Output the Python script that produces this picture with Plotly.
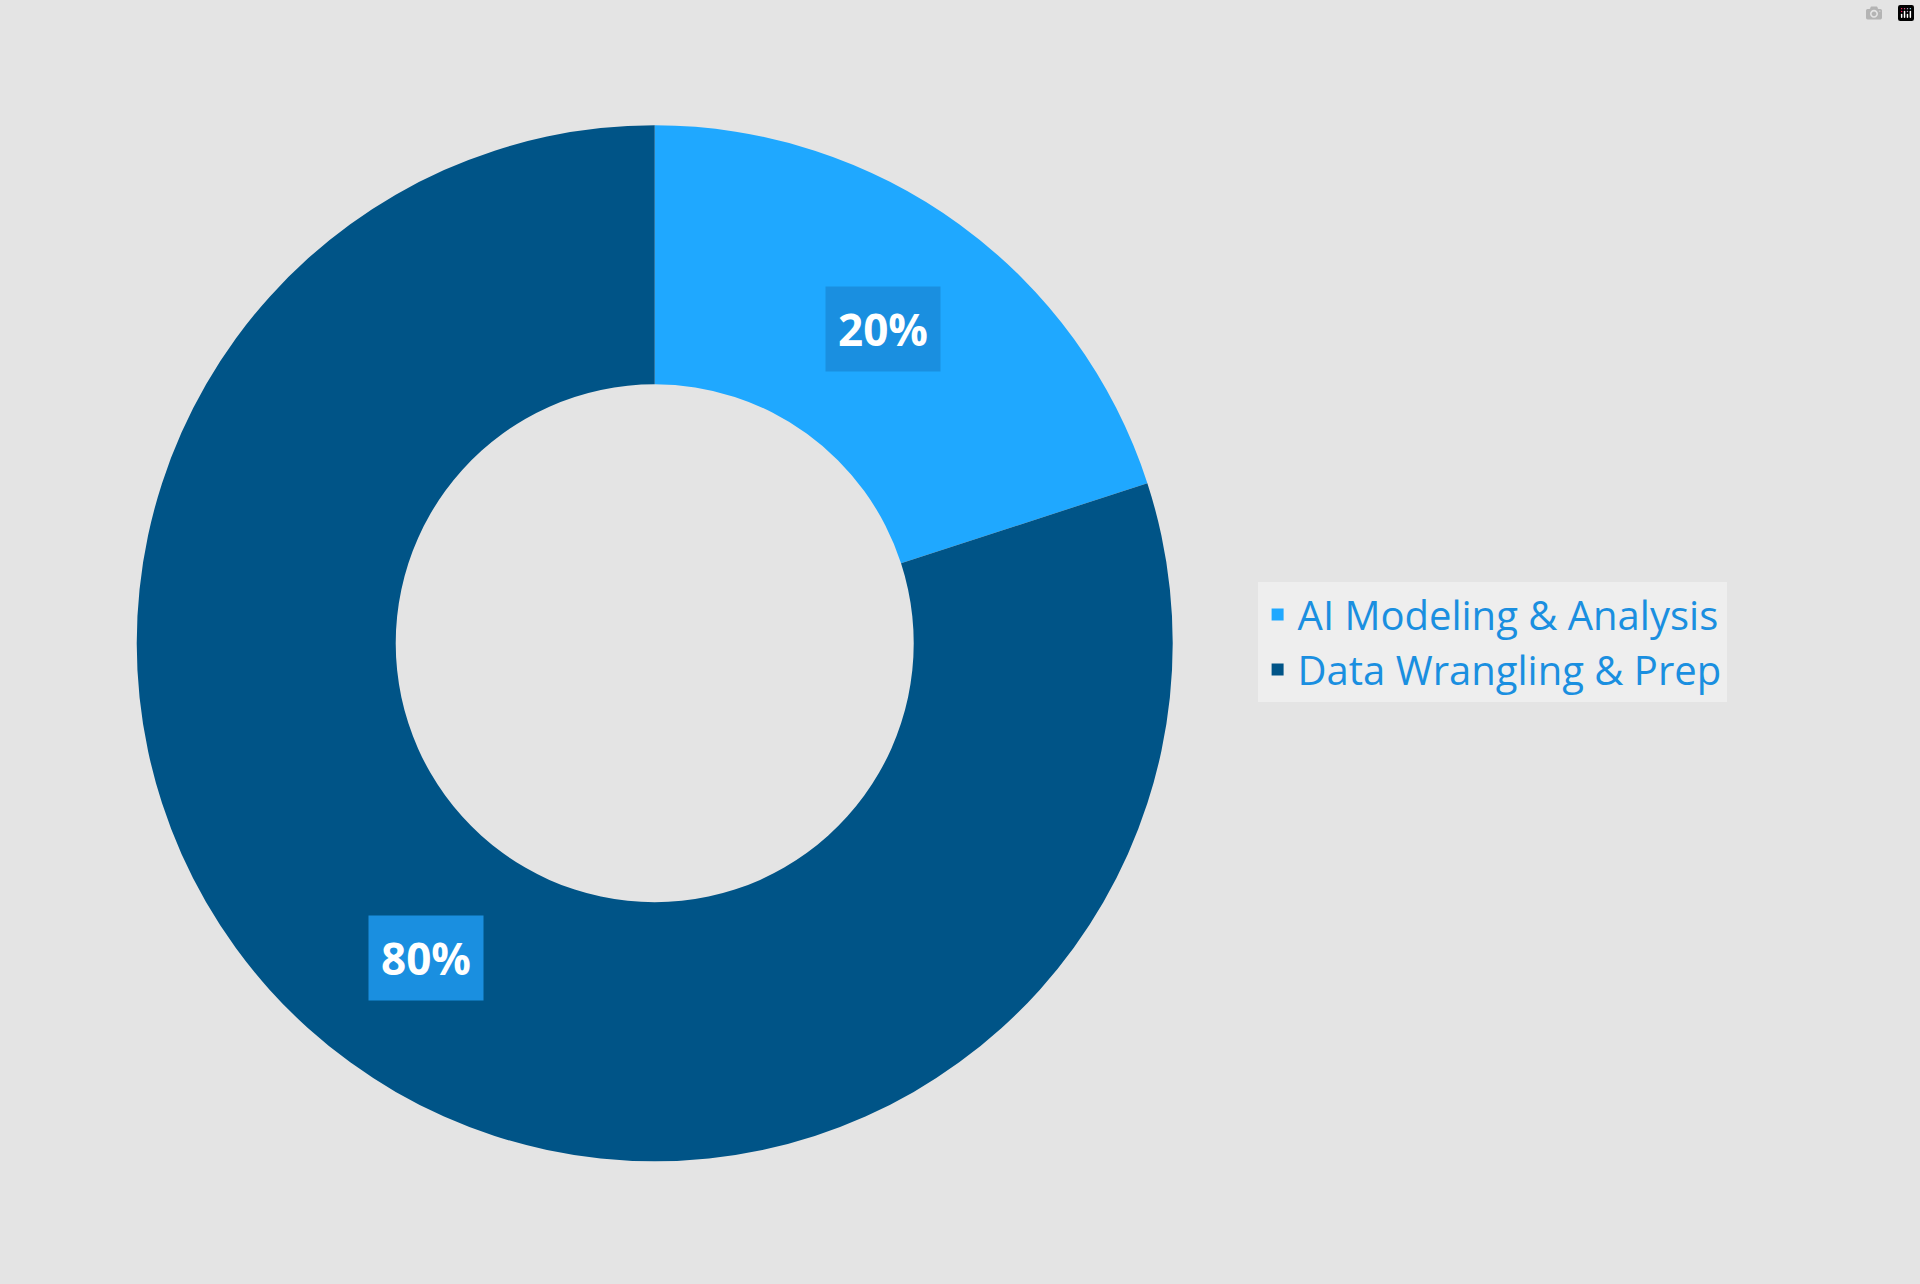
import math
import plotly.graph_objects as go

labels = ["AI Modeling & Analysis", "Data Wrangling & Prep"]
values = [20, 80]
colors = ["#1fa8ff", "#005487"]

W, H = 1920, 1284
cx, cy = 0.341, 0.499  # pie centre in paper coords
R_px = 518

fig = go.Figure(go.Pie(
    labels=labels, values=values, hole=0.5, sort=False,
    direction="clockwise", rotation=0,
    marker=dict(colors=colors, line=dict(width=0)),
    textinfo="none", hoverinfo="label+percent",
    domain=dict(x=[cx - R_px / W, cx + R_px / W], y=[cy - R_px / H, cy + R_px / H]),
))

# percentage boxes placed at the middle angle of each slice
total = sum(values)
start = 0
for v in values:
    mid = (start + v / 2) / total * 2 * math.pi
    start += v
    r = 0.75 * R_px
    fig.add_annotation(
        x=cx + r * math.sin(mid) / W, y=cy + r * math.cos(mid) / H,
        xref="paper", yref="paper", showarrow=False,
        xanchor="center", yanchor="middle",
        text="<b>%d%%</b>" % round(v / total * 100),
        font=dict(family="Open Sans", size=44, color="white"),
        bgcolor="#1a8fe0", borderpad=12,
    )

fig.update_layout(
    width=W, height=H, margin=dict(l=0, r=0, t=0, b=0),
    paper_bgcolor="#e4e4e4", plot_bgcolor="#e4e4e4",
    legend=dict(x=0.655, y=0.5, xanchor="left", yanchor="middle",
                bgcolor="rgba(238,238,238,0.9)",
                font=dict(family="Open Sans", size=40, color="#1a8fe0"),
                itemsizing="constant"),
)
fig.write_html("out.html")

# remove the default page margin around the plot
with open("out.html") as f:
    page = f.read()
page = page.replace("<head>", "<head><style>body{margin:0;background:#e4e4e4}</style>", 1)
with open("out.html", "w") as f:
    f.write(page)
